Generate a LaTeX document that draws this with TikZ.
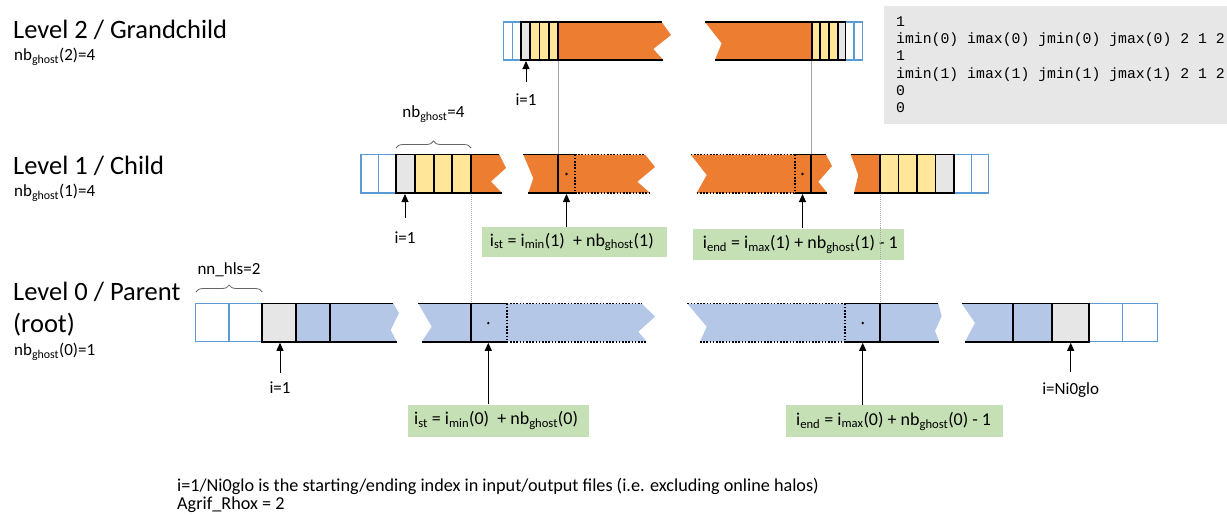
\documentclass[tikz,border=0pt]{standalone}
\usepackage{fontspec}
\setmainfont{Carlito}
\newfontfamily\codefont{Liberation Mono}
\usetikzlibrary{arrows.meta,decorations.pathreplacing}
\definecolor{orng}{HTML}{ED7D31}
\definecolor{yel}{HTML}{FFE699}
\definecolor{gry}{HTML}{E6E6E6}
\definecolor{bfill}{HTML}{B4C7E7}
\definecolor{bline}{HTML}{5B9BD5}
\definecolor{grn}{HTML}{C5E0B4}
\definecolor{codebg}{HTML}{E7E7E7}
\newcommand\sbs[1]{\textsubscript{#1}}
\begin{document}
\begin{tikzpicture}[x=1pt,y=-1pt,
  blk/.style={line width=1.8pt,black},
  blkdot/.style={line width=1.8pt,black,dash pattern=on 1.6pt off 1.6pt},
  bluel/.style={line width=1.4pt,bline},
  conn/.style={line width=0.6pt,gray!70},
  conndot/.style={line width=0.6pt,gray!70,dash pattern=on 1pt off 1pt},
  arr/.style={line width=1pt,black,-{Triangle[width=7pt,length=8pt]}},
  lbl/.style={font=\fontsize{17}{20}\selectfont,inner sep=0pt},
  note/.style={font=\fontsize{18.2}{21}\selectfont,inner sep=0pt,anchor=west},
  head/.style={font=\fontsize{26.5}{31}\selectfont,inner sep=0pt,anchor=west},
  greenbox/.style={fill=grn,anchor=north west,inner sep=0pt},
  gtext/.style={font=\fontsize{18}{21}\selectfont,inner sep=0pt,anchor=west},
  code/.style={font=\codefont\fontsize{14.8}{17}\selectfont,inner sep=0pt,anchor=base west},
  brc/.style={decorate,decoration={brace,amplitude=7pt},line width=0.8pt,gray!80!black},
  dotm/.style={fill=black}
]
\useasboundingbox (0,0) rectangle (1227,515);

% ---------- code box ----------
\fill[codebg] (884,6) rectangle (1227,124);
\node[code] (c1) at (896,26.2) {1};
\node[code] (c2) at (896,43.5) {imin(0) imax(0) jmin(0) jmax(0) 2 1 2};
\node[code] (c3) at (896,60.9) {1};
\node[code] (c4) at (896,78.2) {imin(1) imax(1) jmin(1) jmax(1) 2 1 2};
\node[code] (c5) at (896,95.5) {0};
\node[code] (c6) at (896,112.8) {0};

% ---------- left headings ----------
\node[head] (h2) at (13,30) {Level 2 / Grandchild};
\node[lbl,anchor=west] (n2) at (14,57) {nb\sbs{ghost}(2)=4};
\node[head] (h1) at (13,166) {Level 1 / Child};
\node[lbl,anchor=west] (n1) at (14,193) {nb\sbs{ghost}(1)=4};
\node[head] (h0) at (13,292) {Level 0 / Parent};
\node[head] (h0b) at (13,325) {(root)};
\node[lbl,anchor=west] (n0) at (14,352) {nb\sbs{ghost}(0)=1};

% ---------- connecting thin lines ----------
\draw[conn] (558.3,60) -- (558.3,154.5);
\draw[conn] (811.5,60) -- (811.5,154.5);
\draw[conndot] (471,193) -- (471,303.5);
\draw[conndot] (880,193) -- (880,303.5);

% ================= LEVEL 2 (yt=22, yb=60) =================
\fill[orng] (558.3,22) -- (661.7,22) -- (671,35) -- (653.3,49) -- (663.3,60) -- (558.3,60) -- cycle;
\fill[yel] (530,22) rectangle (558.3,60);
\fill[gry] (521,22) rectangle (530,60);
\draw[bluel] (503.3,22) rectangle (521,60);
\draw[bluel] (512.3,22) -- (512.3,60);
\draw[blk] (661.7,22) -- (521,22) -- (521,60) -- (663.3,60);
\draw[blk] (530,22) -- (530,60) (539.4,22) -- (539.4,60) (548.9,22) -- (548.9,60) (558.3,22) -- (558.3,60);

\fill[orng] (705,22) -- (811.7,22) -- (811.7,60) -- (715,60) -- (721.7,43.3) -- cycle;
\fill[yel] (811.7,22) rectangle (837.7,60);
\fill[gry] (837.7,22) rectangle (845.5,60);
\draw[bluel] (845.5,22) rectangle (862.3,60);
\draw[bluel] (853.9,22) -- (853.9,60);
\draw[blk] (705,22) -- (845.5,22) -- (845.5,60) -- (715,60);
\draw[blk] (811.7,22) -- (811.7,60) (820.3,22) -- (820.3,60) (829,22) -- (829,60) (837.7,22) -- (837.7,60);

\coordinate (t2) at (526,61);
\node[lbl] (i2) at (526,100) {i=1};
\draw[arr] (i2.north |- 0,82) -- (t2);

% ================= LEVEL 1 (yt=154.5, yb=193) =================
% piece A
\fill[orng] (471,154.5) -- (499.3,154.5) -- (506,168) -- (491,181.5) -- (502,193) -- (471,193) -- cycle;
\fill[yel] (415,154.5) rectangle (471,193);
\fill[gry] (395.7,154.5) rectangle (415,193);
\draw[bluel] (361,154.5) rectangle (395.7,193);
\draw[bluel] (378.3,154.5) -- (378.3,193);
\draw[blk] (499.3,154.5) -- (395.7,154.5) -- (395.7,193) -- (502,193);
\draw[blk] (415,154.5) -- (415,193) (433.7,154.5) -- (433.7,193) (452.3,154.5) -- (452.3,193) (471,154.5) -- (471,193);
\draw[brc] (396,148) -- (471,148);
\node[lbl] (nbg) at (433.5,114) {nb\sbs{ghost}=4};

% piece B
\fill[orng] (523.3,154.5) -- (645,154.5) -- (655,167) -- (637.3,181.7) -- (650,193) -- (528.3,193) -- (533.3,178.3) -- cycle;
\draw[blk] (523.3,154.5) -- (575,154.5) (528.3,193) -- (575,193);
\draw[blkdot] (575,154.5) -- (645,154.5) (575,193) -- (650,193);
\draw[blk] (557.7,154.5) -- (557.7,193);
\draw[blkdot] (575,154.5) -- (575,193);
\fill[dotm] (566.5,174) circle (1.3);

% piece C
\fill[orng] (690.7,154.5) -- (826,154.5) -- (832,166) -- (818.3,181.7) -- (827.3,193) -- (696.7,193) -- (706.7,175) -- cycle;
\draw[blkdot] (690.7,154.5) -- (795,154.5) (696.7,193) -- (795,193);
\draw[blk] (795,154.5) -- (826,154.5) (795,193) -- (827.3,193);
\draw[blkdot] (795,154.5) -- (795,193);
\draw[blk] (811,154.5) -- (811,193);
\fill[dotm] (802.5,174) circle (1.3);

% piece D
\fill[orng] (850.7,154.5) -- (880,154.5) -- (880,193) -- (854,193) -- (858.3,175) -- cycle;
\fill[yel] (880,154.5) rectangle (935.5,193);
\fill[gry] (935.5,154.5) rectangle (954.3,193);
\draw[bluel] (954.3,154.5) rectangle (988.3,193);
\draw[bluel] (971.3,154.5) -- (971.3,193);
\draw[blk] (850.7,154.5) -- (954.3,154.5) -- (954.3,193) -- (854,193);
\draw[blk] (880,154.5) -- (880,193) (898.5,154.5) -- (898.5,193) (917,154.5) -- (917,193) (935.5,154.5) -- (935.5,193);

% labels & arrows level 1
\coordinate (t1a) at (405,194);
\node[lbl] (i1) at (405,238) {i=1};
\draw[arr] (405,218) -- (t1a);

\node[greenbox,minimum width=185pt,minimum height=30pt] (g1) at (481.7,226.7) {};
\node[gtext] (g1t) at ([xshift=8pt]g1.west) {i\sbs{st} = i\sbs{min}(1)\ \ + nb\sbs{ghost}(1)};
\coordinate (t1b) at (566.5,194);
\draw[arr] (g1.north -| t1b) -- (t1b);

\node[greenbox,minimum width=210.6pt,minimum height=31.7pt] (g2) at (692.7,228.3) {};
\node[gtext] (g2t) at ([xshift=10pt]g2.west) {i\sbs{end} = i\sbs{max}(1) + nb\sbs{ghost}(1) - 1};
\coordinate (t1c) at (802.5,194);
\draw[arr] (g2.north -| t1c) -- (t1c);
\draw[conndot] (880,228.3) -- (880,260);

% ================= LEVEL 0 (yt=303.5, yb=341.7) =================
% piece A
\fill[bfill] (296,303.5) -- (393.3,303.5) -- (399,313) -- (390.7,330) -- (396.7,341.7) -- (296,341.7) -- cycle;
\fill[gry] (262.3,303.5) rectangle (296,341.7);
\draw[bluel] (195.7,303.5) rectangle (262.3,341.7);
\draw[bluel] (229,303.5) -- (229,341.7);
\draw[blk] (393.3,303.5) -- (262.3,303.5) -- (262.3,341.7) -- (396.7,341.7);
\draw[blk] (296,303.5) -- (296,341.7) (330,303.5) -- (330,341.7);
\draw[brc] (196,292) -- (262.3,292);
\node[lbl] (nnh) at (229,270) {nn\_hls=2};

% piece B
\fill[bfill] (418.3,303.5) -- (641.7,303.5) -- (655,316.7) -- (638.3,331.7) -- (646.7,341.7) -- (421.7,341.7) -- (431.7,326.7) -- cycle;
\draw[blk] (418.3,303.5) -- (506.7,303.5) (421.7,341.7) -- (506.7,341.7);
\draw[blkdot] (506.7,303.5) -- (641.7,303.5) (506.7,341.7) -- (646.7,341.7);
\draw[blk] (471,303.5) -- (471,341.7);
\draw[blkdot] (506.7,303.5) -- (506.7,341.7);
\fill[dotm] (488.3,323) circle (1.3);

% piece C
\fill[bfill] (687.3,303.5) -- (938.3,303.5) -- (941.7,316) -- (935,331) -- (939.3,341.7) -- (700,341.7) -- (706.7,326.7) -- cycle;
\draw[blkdot] (687.3,303.5) -- (845,303.5) (700,341.7) -- (845,341.7);
\draw[blk] (845,303.5) -- (938.3,303.5) (845,341.7) -- (939.3,341.7);
\draw[blkdot] (845,303.5) -- (845,341.7);
\draw[blk] (880,303.5) -- (880,341.7);
\fill[dotm] (862.7,323) circle (1.3);

% piece D
\fill[bfill] (961.7,303.5) -- (1051.7,303.5) -- (1051.7,341.7) -- (965,341.7) -- (975,323) -- cycle;
\fill[gry] (1051.7,303.5) rectangle (1089.3,341.7);
\draw[bluel] (1089.3,303.5) rectangle (1157.3,341.7);
\draw[bluel] (1122.7,303.5) -- (1122.7,341.7);
\draw[blk] (961.7,303.5) -- (1089.3,303.5) -- (1089.3,341.7) -- (965,341.7);
\draw[blk] (1013.3,303.5) -- (1013.3,341.7) (1051.7,303.5) -- (1051.7,341.7);

% labels & arrows level 0
\coordinate (t0a) at (280,342.8);
\node[lbl] (i0) at (280,388) {i=1};
\draw[arr] (280,373) -- (t0a);

\node[greenbox,minimum width=181pt,minimum height=32.7pt] (g3) at (408,404.3) {};
\node[gtext] (g3t) at ([xshift=6pt]g3.west) {i\sbs{st} = i\sbs{min}(0)\ \ + nb\sbs{ghost}(0)};
\coordinate (t0b) at (488.3,342.8);
\draw[arr] (g3.north -| t0b) -- (t0b);

\node[greenbox,minimum width=217pt,minimum height=32pt] (g4) at (786,405) {};
\node[gtext] (g4t) at ([xshift=10pt]g4.west) {i\sbs{end} = i\sbs{max}(0) + nb\sbs{ghost}(0) - 1};
\coordinate (t0c) at (862.7,342.8);
\draw[arr] (g4.north -| t0c) -- (t0c);

\coordinate (t0d) at (1070.7,342.8);
\node[lbl] (ig) at (1070.7,390) {i=Ni0glo};
\draw[arr] (1070.7,372) -- (t0d);

% ---------- bottom notes ----------
\node[note] (note1) at (177,486) {i=1/Ni0glo is the starting/ending index in input/output files (i.e. excluding online halos)};
\node[note] (note2) at (177,505) {Agrif\_Rhox = 2};
\end{tikzpicture}
\end{document}
